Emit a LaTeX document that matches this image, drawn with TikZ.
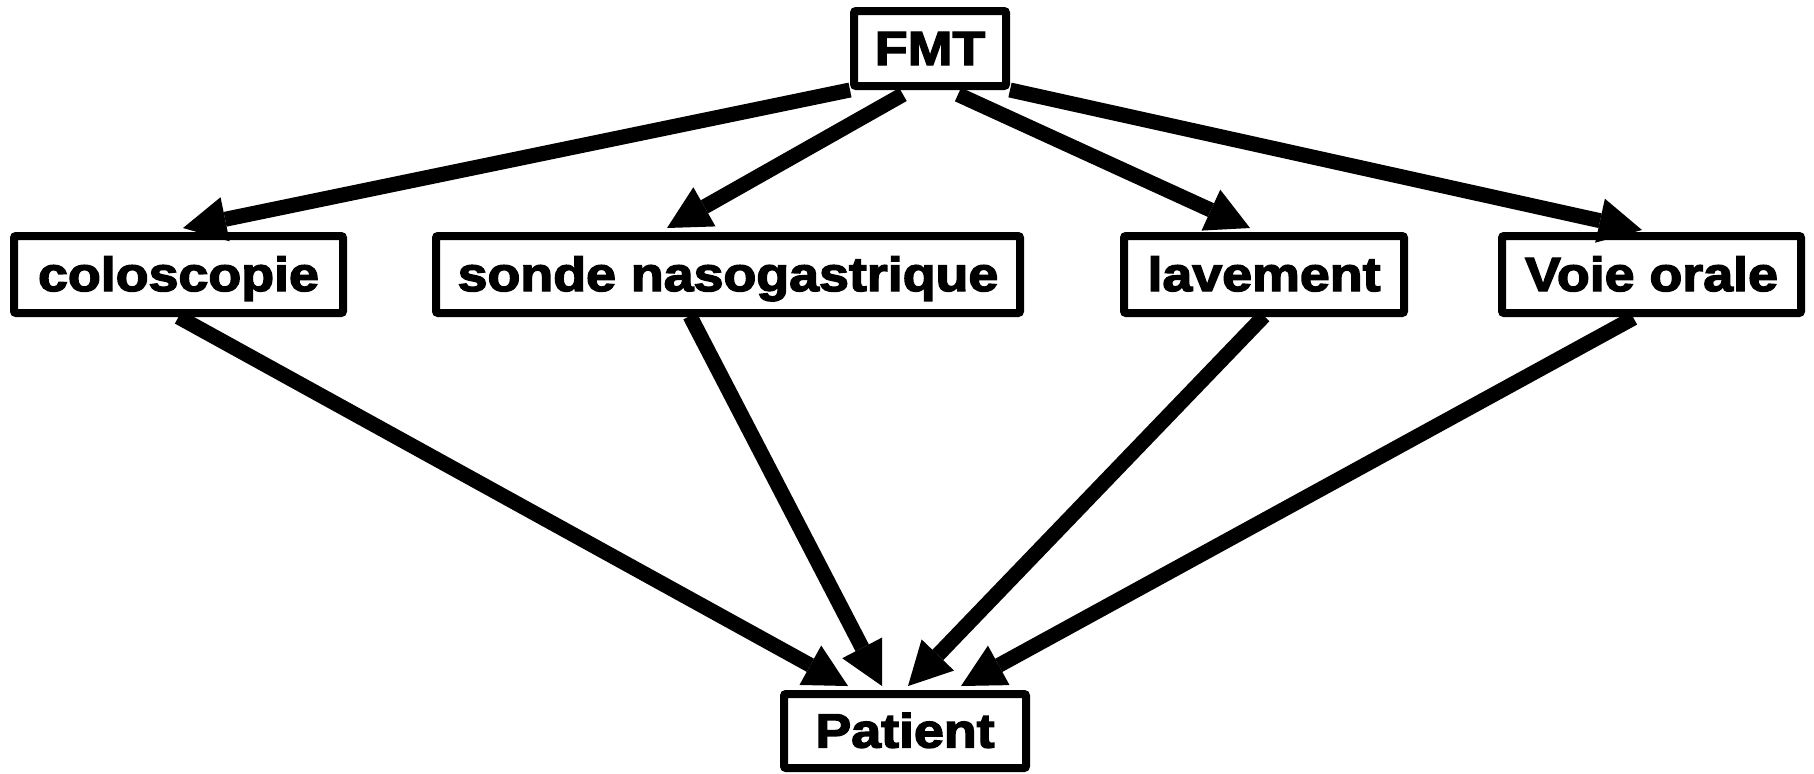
\documentclass[tikz,border=0pt]{standalone}
\usepackage{fontspec}
\newfontfamily\boxfont{Liberation Sans}[FakeStretch=1.12,FakeBold=3]
\usetikzlibrary{arrows.meta,calc}
\begin{document}
\begin{tikzpicture}[x=0.5pt,y=-0.5pt,
  box/.style={draw=black,fill=white,line width=4pt,rounded corners=1pt,
    minimum height=38.5pt,inner sep=0pt,text height=16.5pt,text depth=0pt,
    font=\boxfont\bfseries\fontsize{24pt}{28pt}\selectfont},
  conn/.style={line width=7.5pt,
    -{Triangle[length=21.5pt,width=22.5pt,line width=0pt]}}]
\fill[white] (0,0) rectangle (1814,773);
\useasboundingbox (0,0) rectangle (1814,773);
\node[box,minimum width=76pt,minimum height=37.5pt] (fmt) at (930,48.5) {FMT};
\node[box,minimum width=164.5pt] (colo) at (178.5,274.5) {coloscopie};
\node[box,minimum width=292pt] (sonde) at (728,274.5) {sonde nasogastrique};
\node[box,minimum width=140pt] (lav) at (1264,274.5) {lavement};
\node[box,minimum width=149.5pt] (voie) at (1651.5,274.5) {Voie orale};
\node[box,minimum width=121pt,minimum height=37pt] (pat) at (905,731) {Patient};
\draw[conn] (fmt.south west) -- ($(colo.north)+(4.5,-4)$);
\draw[conn] ($(fmt.south)+(-27,4.5)$) -- ($(sonde.north)+(-61,-4)$);
\draw[conn] ($(fmt.south)+(28,4.5)$) -- ($(lav.north)+(-14,-4)$);
\draw[conn] (fmt.south east) -- ($(voie.north)+(-9.5,-2)$);
\draw[conn] (colo.south) -- ($(pat.north)+(-57,-4)$);
\draw[conn] ($(sonde.south)+(-38,-1)$) -- ($(pat.north)+(-23,-4)$);
\draw[conn] ($(lav.south)+(0,-1)$) -- ($(pat.north)+(3,-4)$);
\draw[conn] ($(voie.south)+(-18,1)$) -- ($(pat.north)+(56,-4)$);
\end{tikzpicture}
\end{document}
